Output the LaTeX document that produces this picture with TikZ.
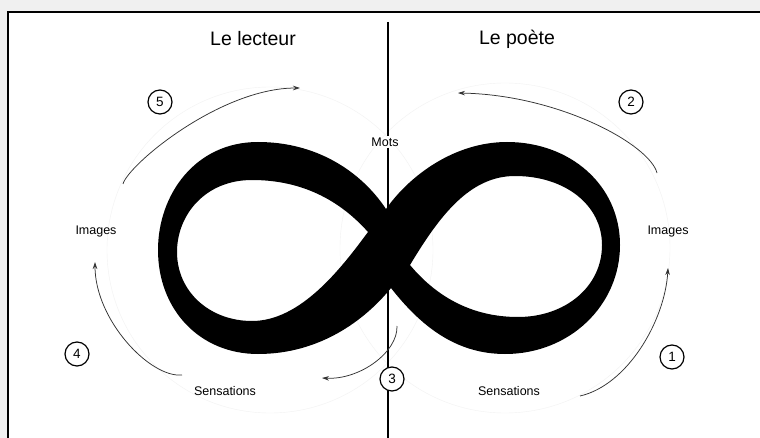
\documentclass[tikz,border=0pt]{standalone}
\usepackage{fontspec}
\setmainfont{Liberation Sans}
\usetikzlibrary{arrows.meta}
\begin{document}
\begin{tikzpicture}[x=1pt, y=-1pt]
		% Define styles
		\tikzstyle{title} = [font=\fontsize{19.5}{22}\selectfont, inner sep=1pt]
		\tikzstyle{label} = [font=\fontsize{12.5}{14}\selectfont, inner sep=1pt]
		\tikzstyle{stepnum} = [circle, draw, line width=1.2pt, minimum size=24pt, inner sep=0pt, font=\fontsize{13.5}{15}\selectfont]
		\tikzstyle{flow} = [black!80, line width=0.75pt, -{Stealth[length=7pt, width=4.5pt]}]
		\tikzstyle{guide} = [black!5, line width=0.4pt]
		
		% Frame
		\useasboundingbox (0,0) rectangle (760,438);
		\fill[black!6] (0,0) rectangle (760,438);
		\fill[white] (8,12) rectangle (760,438);
		\draw[line width=1.6pt] (8,438) -- (8,12) -- (760,12);
		
		% Guide circles
		\draw[guide] (270,250) circle (163);
		\draw[guide] (505,248) circle (165);
		
		% Infinity
		\fill[black, even odd rule]
			(386,209) .. controls (360,170) and (315,142) .. (258,142)
			.. controls (195,142) and (158,195) .. (158,250)
			.. controls (158,310) and (200,354) .. (258,354)
			.. controls (320,354) and (365,320) .. (391,288)
			.. controls (420,325) and (455,354) .. (505,354)
			.. controls (570,354) and (620,305) .. (620,245)
			.. controls (620,185) and (570,142) .. (507,142)
			.. controls (455,142) and (410,175) .. (386,209) -- cycle
			(368,232) .. controls (335,195) and (295,180) .. (252,180)
			.. controls (205,180) and (177,215) .. (177,252)
			.. controls (177,292) and (210,321) .. (252,321)
			.. controls (300,321) and (340,270) .. (368,232) -- cycle
			(410,265) .. controls (440,215) and (470,176) .. (515,176)
			.. controls (565,176) and (602,205) .. (602,245)
			.. controls (602,287) and (565,317) .. (518,317)
			.. controls (470,317) and (435,295) .. (410,265) -- cycle;
		
		% Nodes
		\node[title] (lecteur) at (253,39) {Le lecteur};
		\node[title] (poete) at (517,39) {Le poète};
		\node[label] (mots) at (385,142) {Mots};
		\node[label] (imagesL) at (96,231) {Images};
		\node[label] (imagesR) at (668,231) {Images};
		\node[label] (sensL) at (225,391) {Sensations};
		\node[label] (sensR) at (509,391) {Sensations};
		\node[stepnum] (n1) at (672,357) {1};
		\node[stepnum] (n2) at (631,102) {2};
		\node[stepnum] (n4) at (77,354) {4};
		\node[stepnum] (n5) at (160,102) {5};
		
		% Divider
		\coordinate (top) at (388,22);
		\coordinate (bottom) at (388,438);
		\draw[line width=1.4pt] (top) -- (top |- mots.north);
		\draw[line width=1.4pt] (bottom |- mots.south) -- (bottom);
		\node[stepnum, fill=white] (n3) at (392,379) {3};
		
		% Arrows
		\coordinate (a1s) at (580,396); \coordinate (a1e) at (668,268);
		\coordinate (a2s) at (657,173); \coordinate (a2e) at (458,93);
		\coordinate (a3s) at (397,326); \coordinate (a3e) at (322,378);
		\coordinate (a4s) at (182,375); \coordinate (a4e) at (95,262);
		\coordinate (a5s) at (123,184); \coordinate (a5e) at (300,88);
		\draw[flow] (a1s) .. controls (628,385) and (665,320) .. (a1e);
		\draw[flow] (a2s) .. controls (650,145) and (560,95) .. (a2e);
		\draw[flow] (a3s) .. controls (398,352) and (360,380) .. (a3e);
		\draw[flow] (a4s) .. controls (150,378) and (95,320) .. (a4e);
		\draw[flow] (a5s) .. controls (128,165) and (220,88) .. (a5e);
	\end{tikzpicture}
\end{document}
